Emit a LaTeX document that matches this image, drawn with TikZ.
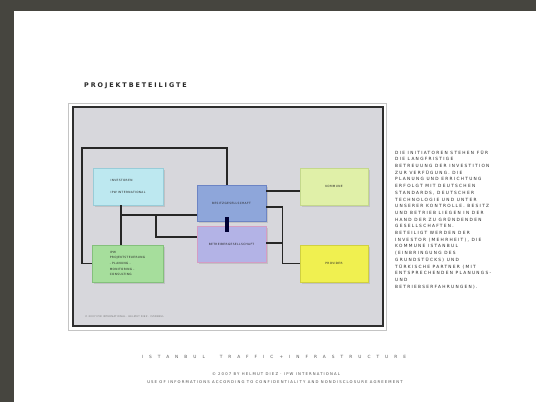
\documentclass[tikz,border=0pt]{standalone}
\usepackage{fontspec}
\setmainfont{DejaVu Sans}
\newfontfamily\trackfont[LetterSpace=30]{DejaVu Sans}
\newfontfamily\tightfont[LetterSpace=12]{DejaVu Sans}
\newfontfamily\widefont[LetterSpace=140]{DejaVu Sans}
\usetikzlibrary{calc,shadows}

% colours
\definecolor{bandgray}{HTML}{46453F}
\definecolor{panelfill}{HTML}{D7D7DC}
\definecolor{panelline}{HTML}{2E2E2E}
\definecolor{panellight}{HTML}{C4C4C4}
\definecolor{linkgray}{HTML}{262626}
\definecolor{inktext}{HTML}{262626}
\definecolor{cyanfill}{HTML}{BDE8F0}
\definecolor{cyanline}{HTML}{98CCD8}
\definecolor{greenfill}{HTML}{A6DE9C}
\definecolor{greenline}{HTML}{84C07C}
\definecolor{bluefill}{HTML}{8EA6DA}
\definecolor{blueline}{HTML}{6C84C4}
\definecolor{lavfill}{HTML}{B3B3E6}
\definecolor{lavline}{HTML}{D49CC4}
\definecolor{limefill}{HTML}{E0F0A8}
\definecolor{limeline}{HTML}{C4D88C}
\definecolor{yelfill}{HTML}{F0F050}
\definecolor{yelline}{HTML}{D0D040}

% text sizes
\newcommand\boxtxt{\tightfont\fontsize{2.9}{5.6}\selectfont}
\newcommand\paratxt{\trackfont\fontsize{4.3}{6.7}\selectfont}
\newcommand\titletxt{\trackfont\bfseries\fontsize{6.4}{7}\selectfont}
\newcommand\foottxt{\trackfont\fontsize{3.8}{8}\selectfont}

\begin{document}
\begin{tikzpicture}[x=1pt, y=-1pt, >=latex,
    box/.style={draw, line width=0.8pt, minimum width=70pt, minimum height=37pt,
      inner sep=2pt, font=\boxtxt, text=inktext,
      drop shadow={opacity=0.25, shadow xshift=1.5pt, shadow yshift=-1.5pt}},
    link/.style={draw=linkgray, line width=1.7pt},
    tie/.style={draw=black!80!blue, line width=3.2pt}]

  % ==== PAGE ====
  \useasboundingbox (0,0) rectangle (536,402);
  \fill[white] (0,0) rectangle (536,402);
  \fill[bandgray] (0,0) rectangle (536,11);
  \fill[bandgray] (0,0) rectangle (14,402);

  % ==== TITLE ====
  \node[anchor=west, inner sep=0, font=\titletxt, text=inktext] (title) at (84,86) {PROJEKTBETEILIGTE};

  % ==== PANEL ====
  \draw[panellight, line width=0.8pt] (68,103) rectangle (386,330);
  \draw[panelline, line width=1.5pt, fill=panelfill] (73,107) rectangle (383,326);
  \node[anchor=west, inner sep=0, font=\tightfont\fontsize{2.4}{3}\selectfont, text=black!55] (credit) at (85,317)
    {© 2007 IPW INTERNATIONAL · HELMUT DIEZ · ISTANBUL};

  % ==== PARTIES ====
  \node[box, fill=cyanfill, draw=cyanline, align=left] (investoren) at (128,186.5)
    {INVESTOREN\\[6pt]IPW INTERNATIONAL};
  \node[box, fill=greenfill, draw=greenline, minimum width=71pt, align=left] (ipw) at (127.5,263.5)
    {IPW\\PROJEKTSTEUERUNG\\- PLANUNG -\\MONITORING -\\CONSULTING};
  \node[box, fill=bluefill, draw=blueline, minimum width=69pt, minimum height=36pt] (besitz) at (231.5,203)
    {BESITZGESELLSCHAFT};
  \node[box, fill=lavfill, draw=lavline, minimum width=69pt, minimum height=36pt] (betreiber) at (231.5,244)
    {BETREIBERGESELLSCHAFT};
  \node[box, fill=limefill, draw=limeline, minimum width=68pt] (kommune) at (334,186.5) {KOMMUNE};
  \node[box, fill=yelfill, draw=yelline, minimum width=68pt] (provider) at (334,263.5) {PROVIDER};

  % ==== CONNECTIONS ====
  \coordinate (looptop) at (82,148);
  \coordinate (stem) at (121,205);
  \coordinate (fork) at (156,215);
  \coordinate (rail) at (283,207);
  \coordinate (toplink) at ($(besitz.east)+(0,-12)$);
  \coordinate (lowlink) at ($(betreiber.east)+(0,-1)$);

  \draw[link] (ipw.west) -| (looptop) -| ($(besitz.north)+(-4.5,0)$);
  \draw[link] (stem) -- (stem |- ipw.north);
  \draw[link] (stem |- fork) -- ($(besitz.west)+(0,12)$);
  \draw[link] (fork) |- ($(betreiber.west)+(0,-7)$);
  \draw[link] (toplink) -- (toplink -| kommune.west);
  \draw[link] ($(besitz.east)+(0,4)$) -| ($(provider.west)+(-17,0)$) -- (provider.west);
  \draw[link] (lowlink) -- (lowlink -| rail);
  \draw[tie] ($(besitz.south)+(-4.5,-4)$) -- ($(betreiber.north)+(-4.5,6)$);

  % ==== DESCRIPTION ====
  \node[anchor=north west, inner sep=0, align=left, font=\paratxt, text=inktext] (about) at (395,150)
    {DIE INITIATOREN STEHEN FÜR\\
     DIE LANGFRISTIGE\\
     BETREUUNG DER INVESTITION\\
     ZUR VERFÜGUNG. DIE\\
     PLANUNG UND ERRICHTUNG\\
     ERFOLGT MIT DEUTSCHEN\\
     STANDARDS, DEUTSCHER\\
     TECHNOLOGIE UND UNTER\\
     UNSERER KONTROLLE. BESITZ\\
     UND BETRIEB LIEGEN IN DER\\
     HAND DER ZU GRÜNDENDEN\\
     GESELLSCHAFTEN.\\
     BETEILIGT WERDEN DER\\
     INVESTOR (MEHRHEIT), DIE\\
     KOMMUNE ISTANBUL\\
     (EINBRINGUNG DES\\
     GRUNDSTÜCKS) UND\\
     TÜRKISCHE PARTNER (MIT\\
     ENTSPRECHENDEN PLANUNGS-\\
     UND\\
     BETRIEBSERFAHRUNGEN).};

  % ==== FOOTER ====
  \node[inner sep=0, font=\widefont\fontsize{4.3}{5}\selectfont, text=black!65] (project) at (274,357)
    {ISTANBUL\ \ TRAFFIC+INFRASTRUCTURE};
  \node[inner sep=0, font=\foottxt, text=black!70] (copyright) at (276,374)
    {© 2007 BY HELMUT DIEZ · IPW INTERNATIONAL};
  \node[inner sep=0, font=\foottxt, text=black!70] (notice) at (275,382)
    {USE OF INFORMATIONS ACCORDING TO CONFIDENTIALITY AND NONDISCLOSURE AGREEMENT};

\end{tikzpicture}
\end{document}
